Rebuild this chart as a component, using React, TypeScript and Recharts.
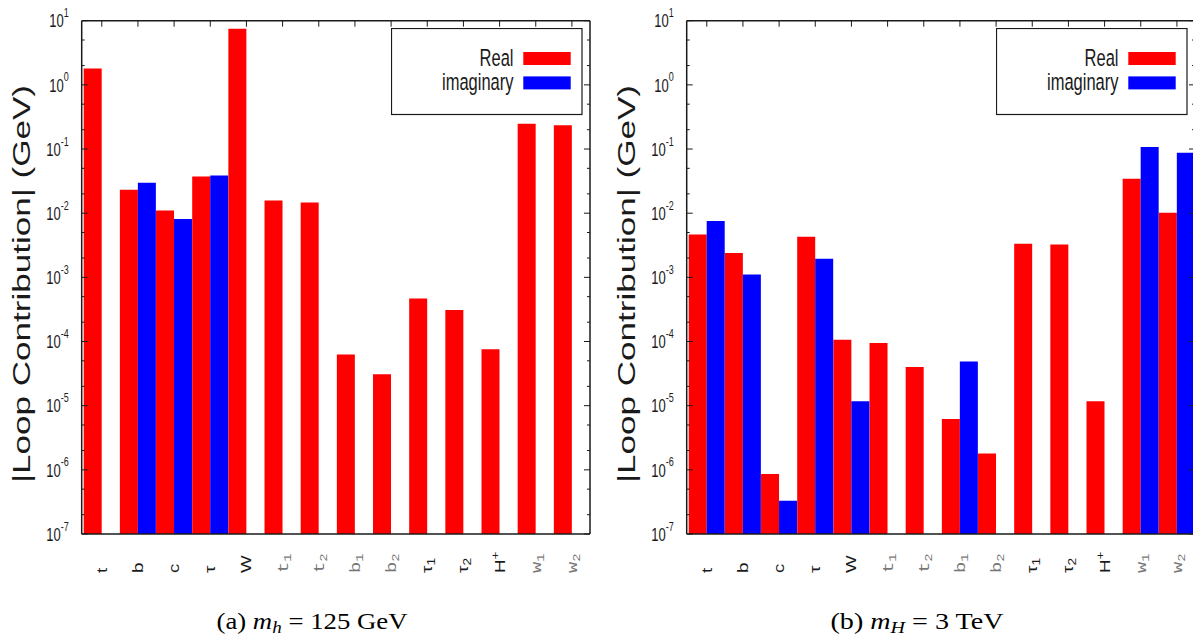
import React from "react";
import { Bar, BarChart, Legend, XAxis, YAxis } from "recharts";

const particles = ["t", "b", "c", "τ", "W", "t1", "t2", "b1", "b2", "τ1", "τ2", "H+", "w1", "w2"];

// (a) m_h = 125 GeV
const realLight = [1.8, 0.0232, 0.011, 0.0373, 7.5, 0.0158, 0.0147, 6.3e-5, 3.1e-5, 4.7e-4, 3.1e-4, 7.6e-5, 0.247, 0.235];
const imagLight = [null, 0.0298, 0.0081, 0.0387, null, null, null, null, null, null, null, null, null, null];

// (b) m_H = 3 TeV
const realHeavy = [0.00467, 0.00239, 8.6e-7, 0.0043, 1.07e-4, 9.5e-5, 4.0e-5, 6.2e-6, 1.8e-6, 0.00334, 0.00326, 1.17e-5, 0.0344, 0.0102];
const imagHeavy = [0.00753, 0.00111, 3.3e-7, 0.00195, 1.17e-5, null, null, 4.9e-5, null, null, null, null, 0.108, 0.0873];

const exponents = [-7, -6, -5, -4, -3, -2, -1, 0, 1];
const mantissas = [1, 2, 5];

const yTicks: number[] = [];
exponents.forEach((e) => {
  mantissas.forEach((m) => {
    if (e < 1 || m === 1) yTicks.push(m * Math.pow(10, e));
  });
});

const SANS = "'Liberation Sans', Arial, sans-serif";
const SERIF = "'Liberation Serif', 'DejaVu Serif', serif";
const MONO = "'Liberation Mono', 'DejaVu Sans Mono', monospace";
const INK = "#1a1a1a";

// plot box inside each 600x641 panel
const BOX = { left: 81.7, top: 20.7, right: 590, bottom: 534 };

function leftTick(props: any) {
  const x = Number(props.x);
  const y = Number(props.y);
  const e = Math.log10(props.payload.value);
  const major = Math.abs(e - Math.round(e)) < 1e-6;
  return (
    <g key={`l${props.index}`}>
      <line x1={x} x2={x + (major ? 6 : 3)} y1={y} y2={y} stroke={INK} />
      {major && (
        <g transform={`translate(${x - 13}, ${y}) scale(1, 1.45)`}>
          <text textAnchor="end" y={4.6} fontSize={13} fontFamily={SANS} fill={INK}>
            10
            <tspan dy={-7} fontSize={9}>{Math.round(e)}</tspan>
          </text>
        </g>
      )}
    </g>
  );
}

function rightTick(props: any) {
  const x = Number(props.x);
  const y = Number(props.y);
  const e = Math.log10(props.payload.value);
  const major = Math.abs(e - Math.round(e)) < 1e-6;
  return <line key={`r${props.index}`} x1={x - (major ? 6 : 3)} x2={x} y1={y} y2={y} stroke={INK} />;
}

function topTick(props: any) {
  const x = Number(props.x);
  const y = Number(props.y);
  return <line key={`t${props.index}`} x1={x} x2={x} y1={y} y2={y + 6} stroke={INK} />;
}

// rotated category label, reading upwards from just below the axis
function xLabel(props: any) {
  const x = Number(props.x);
  const name: string = props.payload.value;
  const gray = /^[tbw][12]$/.test(name);
  const tail = name.length === 2 ? name[1] : "";
  return (
    <g key={`x${props.index}`} transform={`translate(${x + 5}, 573) rotate(-90) scale(1.25, 1)`}>
      <text fontSize={15} fontFamily={gray ? MONO : SANS} fill={gray ? "#777" : INK}>
        {name[0]}
        {tail && (
          <tspan dy={tail === "+" ? -6 : 3} fontSize={11}>
            {tail}
          </tspan>
        )}
      </text>
    </g>
  );
}

function LegendBox(props: any) {
  const items = props.payload || [];
  return (
    <svg width={192} height={88} style={{ display: "block" }}>
      <rect x={0.5} y={0.5} width={190.5} height={86} fill="#fff" stroke={INK} strokeWidth={1.2} />
      {items.map((it: any, i: number) => (
        <g key={it.value}>
          <g transform={`translate(122.5, ${37.7 + i * 24}) scale(1, 1.42)`}>
            <text textAnchor="end" fontSize={16.5} fontFamily={SANS} fill={INK}>
              {it.value}
            </text>
          </g>
          <rect x={132.3} y={24 + i * 24.4} width={47.4} height={13} fill={it.color} />
        </g>
      ))}
    </svg>
  );
}

function Panel({ left, real, imag, tag, massSym, massVal }: any) {
  const data = particles.map((name, i) => ({ name, re: real[i], im: imag[i] }));
  const axisLine = { stroke: INK, strokeWidth: 1.5 };
  return (
    <div style={{ position: "absolute", left, top: 0, width: 600, height: 641 }}>
      <svg width={600} height={641} style={{ position: "absolute", left: 0, top: 0 }}>
        <text
          transform="translate(30, 284) rotate(-90)"
          textAnchor="middle"
          fontSize={23}
          fontFamily={SANS}
          fill={INK}
          textLength={398}
          lengthAdjust="spacingAndGlyphs"
        >
          |Loop Contribution| (GeV)
        </text>
        <text
          x={312}
          y={629}
          textAnchor="middle"
          fontSize={22.5}
          fontFamily={SERIF}
          fill="#000"
          textLength={tag === "a" ? 191 : 173}
          lengthAdjust="spacingAndGlyphs"
        >
          {`(${tag}) `}
          <tspan fontStyle="italic">m</tspan>
          <tspan fontStyle="italic" fontSize={16} dy={4}>{massSym}</tspan>
          <tspan dy={-4}>{` = ${massVal}`}</tspan>
        </text>
      </svg>
      <div style={{ position: "absolute", left: 0, top: 0 }}>
        <BarChart
          width={600}
          height={641}
          data={data}
          margin={{ top: BOX.top - 1, right: 600 - BOX.right - 1, bottom: 641 - BOX.bottom - 1, left: BOX.left - 1 }}
          barCategoryGap={0}
          barGap={0}
        >
          <XAxis
            dataKey="name"
            height={1}
            padding={{ left: 2, right: 0 }}
            tickSize={0}
            tickMargin={0}
            tickLine={false}
            axisLine={axisLine}
            tick={xLabel}
            interval={0}
          />
          <XAxis
            xAxisId="top"
            orientation="top"
            dataKey="name"
            height={1}
            padding={{ left: 2, right: 0 }}
            tickSize={0}
            tickMargin={0}
            tickLine={false}
            axisLine={axisLine}
            tick={topTick}
            interval={0}
          />
          <YAxis
            type="number"
            scale="log"
            domain={[1e-7, 10]}
            allowDataOverflow
            ticks={yTicks}
            interval={0}
            width={1}
            tickSize={0}
            tickMargin={0}
            tickLine={false}
            axisLine={axisLine}
            tick={leftTick}
          />
          <YAxis
            yAxisId="right"
            orientation="right"
            type="number"
            scale="log"
            domain={[1e-7, 10]}
            allowDataOverflow
            ticks={yTicks}
            interval={0}
            width={1}
            tickSize={0}
            tickMargin={0}
            tickLine={false}
            axisLine={axisLine}
            tick={rightTick}
          />
          <Legend
            layout="vertical"
            align="center"
            verticalAlign="middle"
            wrapperStyle={{ position: "absolute", left: 391, top: 28, width: 192, height: 88 }}
            content={<LegendBox />}
          />
          <Bar dataKey="re" name="Real" fill="#ff0000" isAnimationActive={false} />
          <Bar dataKey="im" name="imaginary" fill="#0000ff" isAnimationActive={false} />
        </BarChart>
      </div>
    </div>
  );
}

export default function App() {
  return (
    <div
      style={{
        position: "absolute",
        left: 0,
        top: 0,
        width: 1193,
        height: 641,
        overflow: "hidden",
        background: "#fff",
      }}
    >
      <Panel left={0} real={realLight} imag={imagLight} tag="a" massSym="h" massVal="125 GeV" />
      <Panel left={604.5} real={realHeavy} imag={imagHeavy} tag="b" massSym="H" massVal="3 TeV" />
    </div>
  );
}
